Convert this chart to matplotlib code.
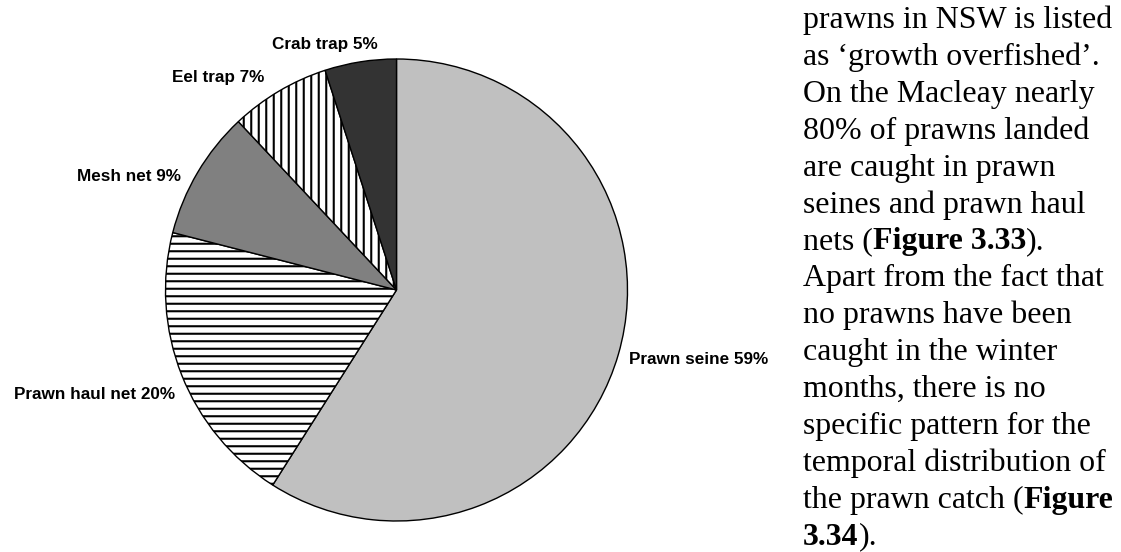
import matplotlib
matplotlib.use("Agg")
import matplotlib.pyplot as plt

# catch share by gear type (percent), clockwise from 12 o'clock
gears = ["Prawn seine", "Prawn haul net", "Mesh net", "Eel trap", "Crab trap"]
shares = [59, 20, 9, 7, 5]
colors = ["#c0c0c0", "white", "#808080", "white", "#333333"]
hatches = [None, "--", None, "||", None]

# where each label sits (pixel x, baseline y from the top)
label_pos = [(699, 364), (95, 399), (129, 181), (218, 82), (325, 49)]

# body text next to the figure, one entry per line, (text, bold)
body = [
    [("prawns in NSW is listed", False)],
    [("as \u2018growth overfished\u2019.", False)],
    [("On the Macleay nearly", False)],
    [("80% of prawns landed", False)],
    [("are caught in prawn", False)],
    [("seines and prawn haul", False)],
    [("nets (", False), ("Figure 3.33", True), (").", False)],
    [("Apart from the fact that", False)],
    [("no prawns have been", False)],
    [("caught in the winter", False)],
    [("months, there is no", False)],
    [("specific pattern for the", False)],
    [("temporal distribution of", False)],
    [("the prawn catch (", False), ("Figure", True)],
    [("3.34", True), (").", False)],
]

W, H = 1121, 552
DPI = 90
k = 100 / DPI  # keep pixel sizes the same as at 100 dpi
plt.rcParams["hatch.linewidth"] = 1.5 * k

fig = plt.figure(figsize=(W / DPI, H / DPI), dpi=DPI)
ax = fig.add_axes([0, 0, 1, 1])

wedges, _ = ax.pie(shares, colors=colors, startangle=90, counterclock=False,
                   center=(396.5, H - 290), radius=231,
                   wedgeprops=dict(edgecolor="black", linewidth=1.0 * k))
for w, h in zip(wedges, hatches):
    if h:
        w.set_hatch(h)

for g, s, (x, y) in zip(gears, shares, label_pos):
    ax.text(x, H - y, f"{g} {s}%", ha="center", va="baseline",
            fontsize=12.3 * k, fontweight="bold", family="Liberation Sans")

x0, y0, step = 803, 28, 36.9
for i, parts in enumerate(body):
    yb = H - (y0 + i * step)
    prev = None
    for txt, bold in parts:
        kw = dict(fontsize=23 * k, family="Liberation Serif", va="baseline", ha="left",
                  fontweight="bold" if bold else "normal")
        if prev is None:
            prev = ax.text(x0, yb, txt, **kw)
        else:
            prev = ax.annotate(txt, xy=(1, yb), xycoords=(prev, "data"), **kw)

ax.set_xlim(0, W)
ax.set_ylim(0, H)
ax.set_aspect("auto")
ax.axis("off")

fig.savefig("out.png", dpi=DPI, facecolor="white")
